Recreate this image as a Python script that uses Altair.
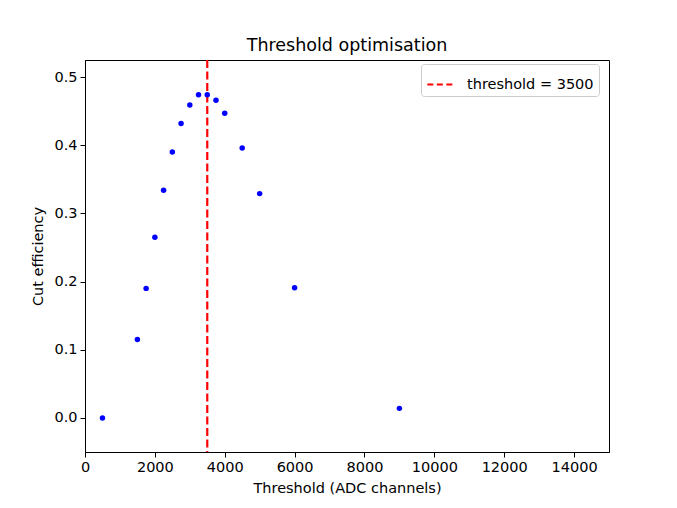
import altair as alt
import pandas as pd

thresholds = [500, 1500, 1750, 2000, 2250, 2500, 2750, 3000, 3250, 3500, 3750, 4000, 4500, 5000, 6000, 9000]
efficiency = [0.0, 0.115, 0.190, 0.265, 0.334, 0.390, 0.432, 0.459, 0.474, 0.474, 0.466, 0.447, 0.396, 0.329, 0.191, 0.014]
chosen = [3500]
legend_label = ["threshold = 3500"]
x_ticks = [0, 2000, 4000, 6000, 8000, 10000, 12000, 14000]
y_ticks = [0.0, 0.1, 0.2, 0.3, 0.4, 0.5]

df = pd.DataFrame({"t": thresholds, "e": efficiency})
rule_df = pd.DataFrame({"t": chosen, "label": legend_label})

FONT = "DejaVu Sans"

xs = alt.Scale(domain=[0, 15000], nice=False, zero=False)
ys = alt.Scale(domain=[-0.05, 0.525], nice=False, zero=False)

points = alt.Chart(df).mark_circle(size=30, color="#0000ff", opacity=1).encode(
    x=alt.X("t:Q", scale=xs, title="Threshold (ADC channels)",
            axis=alt.Axis(values=x_ticks, format="d", labelFlush=False)),
    y=alt.Y("e:Q", scale=ys, title="Cut efficiency",
            axis=alt.Axis(values=y_ticks, format=".1f", labelFlush=False)),
)

rule = alt.Chart(rule_df).mark_rule(strokeWidth=2.2, strokeDash=[8, 3.5]).encode(
    x=alt.X("t:Q", scale=xs),
    color=alt.Color("label:N", scale=alt.Scale(domain=legend_label, range=["#ff0000"]),
                    legend=alt.Legend(title=None, orient="none", legendX=336, legendY=4,
                                      symbolType="stroke", symbolDash=[6, 3.5],
                                      symbolStrokeWidth=2.2, symbolSize=800,
                                      labelFontSize=14.5, labelFont=FONT,
                                      labelOffset=10,
                                      fillColor="white", strokeColor="#cccccc",
                                      padding=5, cornerRadius=3)),
)

chart = alt.layer(rule, points).properties(
    width=524, height=392,
    autosize="none",
    padding={"left": 77, "top": 52, "right": 60, "bottom": 48},
    title=alt.Title("Threshold optimisation", fontSize=17.5, font=FONT,
                    fontWeight="normal", offset=4),
).configure_view(stroke="black", strokeWidth=1).configure_axis(
    grid=False, domainColor="black", tickColor="black", tickSize=5,
    labelFont=FONT, labelFontSize=14.5, labelColor="black",
    titleFont=FONT, titleFontSize=14.5, titleFontWeight="normal", titleColor="black",
    labelPadding=3,
).configure_axisX(titlePadding=8).configure_axisY(titlePadding=8)

chart.save("out.html", embed_options={"renderer": "svg", "actions": False})
